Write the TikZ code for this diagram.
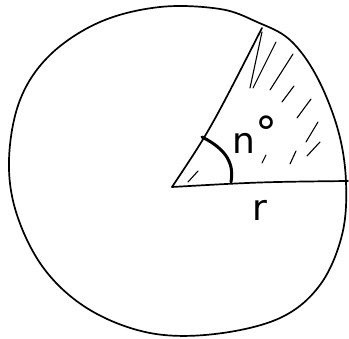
\documentclass[tikz,border=0pt]{standalone}
\usepackage{fontspec}
\setmainfont{DejaVu Sans}
\begin{document}
\begin{tikzpicture}[x=1pt,y=-1pt,
  outline/.style={line width=1.7pt,line cap=round,line join=round},
  hatch/.style={line width=1.1pt,line cap=round},
  anglemark/.style={line width=3pt,line cap=round},
  lbl/.style={inner sep=0pt,font=\fontsize{36}{36}\selectfont}]
\useasboundingbox (0,0) rectangle (349,339);
% blob
\draw[outline] plot[smooth cycle,tension=0.6] coordinates {
 (160,7) (220,9) (257,22) (290,40) (317,77) (338,130) (346,182) (342,235)
 (320,285) (280,318) (215,334) (150,333) (90,310) (45,270) (17,215)
 (9,160) (20,100) (50,55) (100,22)};
% sector
\coordinate (O) at (172,187);
\coordinate (R) at (348,181);
\coordinate (T) at (262,28);
\draw[outline] (O) .. controls (260,182) .. (R);
\draw[outline] (O) .. controls (210,130) .. (T);
% angle mark
\draw[anglemark] (202,137) .. controls (228,150) and (234,165) .. (231,182);
% hatching
\foreach \xa/\ya/\xb/\yb in {250/88/262/32,253/88/276/42,270/90/293/54,282/102/294/86,
  297/118/311/99,306/142/318/122,307/156/320/142,290/164/296/151,
  262/163/266/155,188/182/198/171}
  \draw[hatch] (\xa,\ya) -- (\xb,\yb);
% labels
\node[lbl] (n) at (244,143) {n};
\node[lbl,font=\fontsize{44}{44}\selectfont] (deg) at (266,132) {°};
\node[lbl] (r) at (260,210) {r};
\end{tikzpicture}
\end{document}
